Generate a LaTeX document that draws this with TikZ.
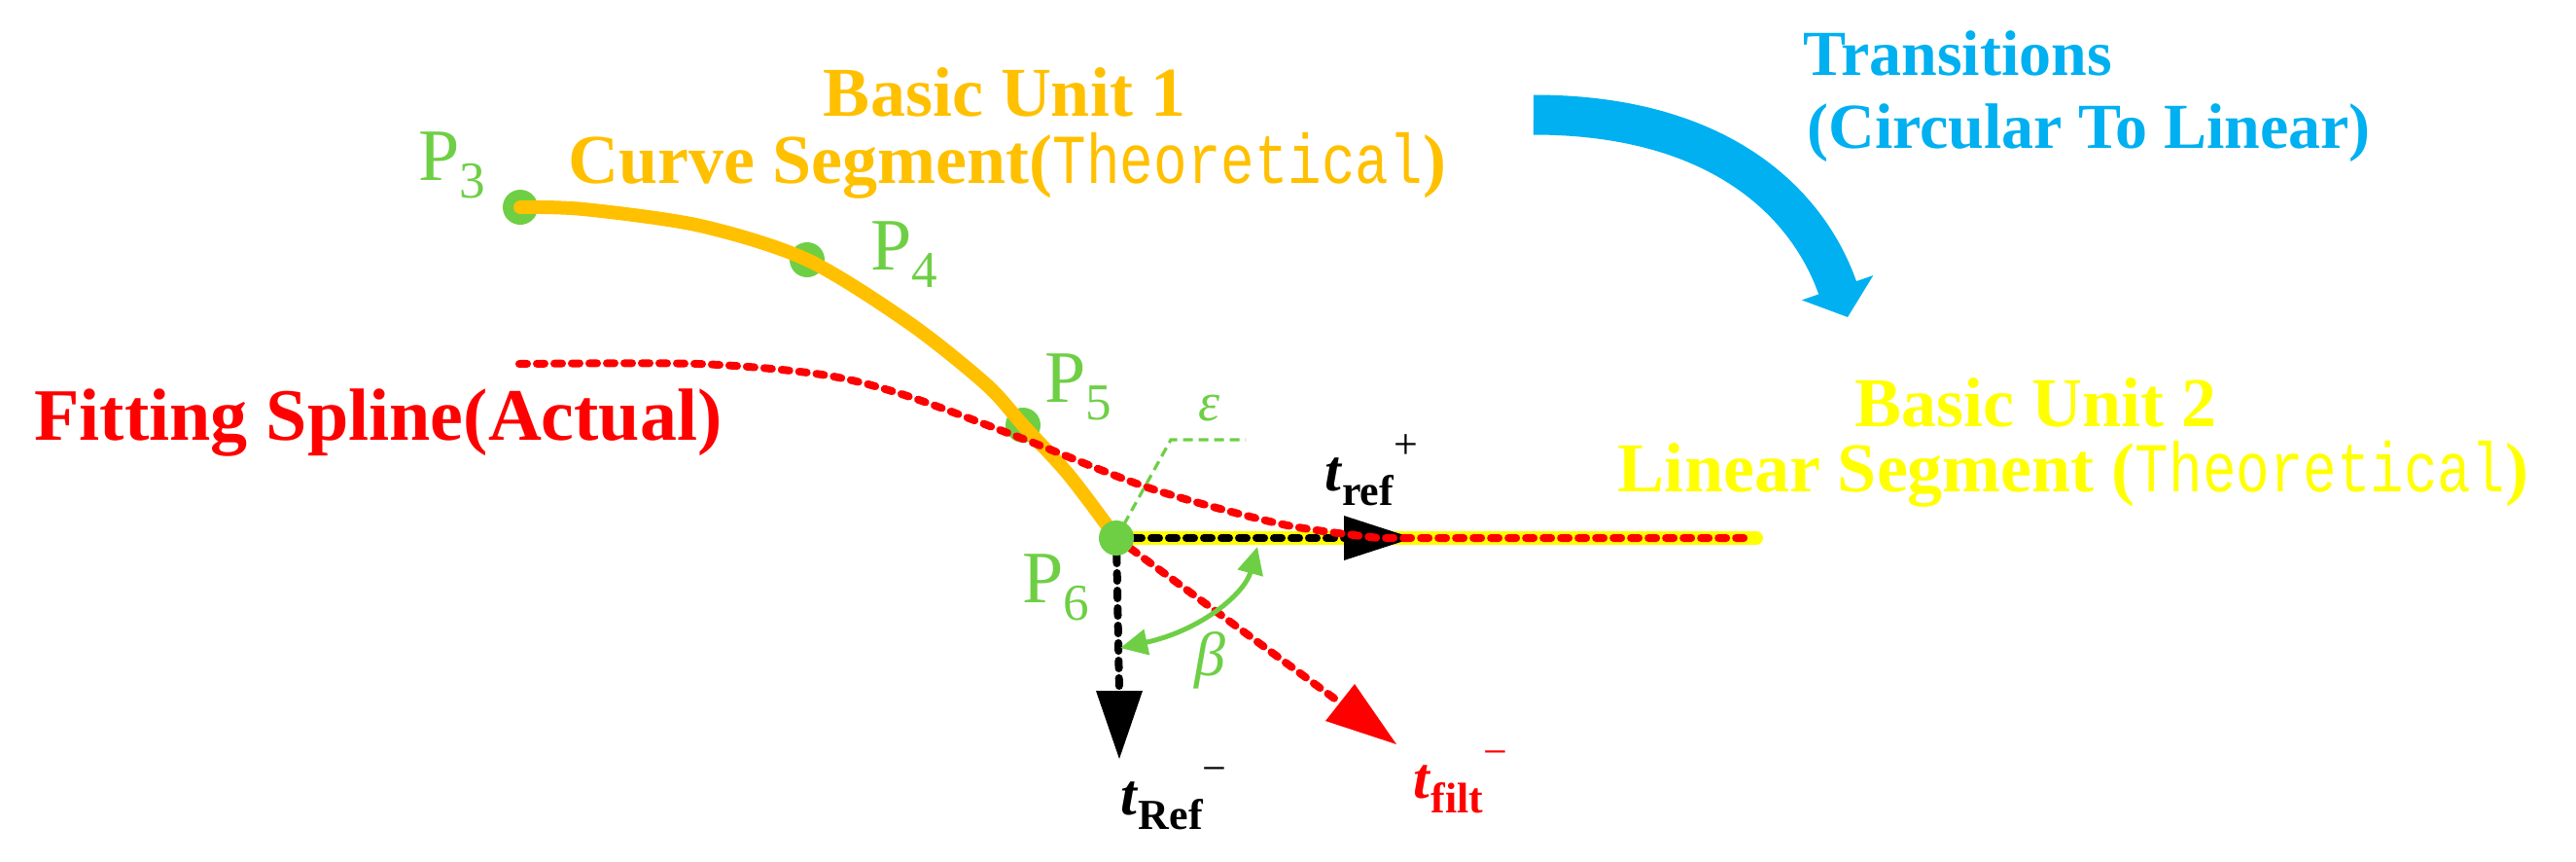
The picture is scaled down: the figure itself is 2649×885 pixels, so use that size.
\documentclass[tikz,border=0pt]{standalone}
\usepackage{fontspec}
\setmainfont{Liberation Serif}
\newfontfamily\monof{Liberation Mono}
\usetikzlibrary{arrows.meta}
\definecolor{org}{HTML}{FFC000}
\definecolor{grn}{HTML}{6ECF45}
\definecolor{blu}{HTML}{00B0F0}
\definecolor{yel}{HTML}{FFFF00}
\definecolor{rd}{HTML}{FF0000}
\newcommand{\theo}{\scalebox{0.8}[1]{\monof\mdseries Theoretical}}
\begin{document}
\begin{tikzpicture}[x=0.5pt,y=-0.5pt,
  dot/.style={circle,fill=grn,inner sep=0pt,minimum size=18pt},
  lbl/.style={inner sep=0pt,font=\bfseries},
  plbl/.style={inner sep=0pt,grn,font=\fontsize{38}{40}\selectfont},
  reddot/.style={rd,line width=4pt,dash pattern=on 4pt off 5pt,line cap=round},
  blkdot/.style={black,line width=4pt,dash pattern=on 4pt off 5pt,line cap=round}]
\useasboundingbox (0,0) rectangle (2649,885);
% points
\node[dot] (p3) at (535,213) {};
\node[dot] (p4) at (830,267) {};
\node[dot] (p5) at (1052,437) {};
\coordinate (p6c) at (1148,553);
\coordinate (yend) at (1806,553);
\coordinate (tr) at (1453,553);
\coordinate (tdn) at (1151,780);
\coordinate (tf) at (1436,765);
% orange curve
\draw[org,line width=7pt,line cap=round] plot[smooth,tension=0.5] coordinates {(535,213) (600,215) (720,232) (830,267) (935,332) (1014,395) (1052,437) (1099,488) (1148,553)};
% yellow line
\draw[yel,line width=7pt,line cap=round] (p6c) -- (yend);
% black dotted t_ref+
\draw[blkdot] (p6c) -- (1385,553);
\fill[black] (tr) -- (1382,530) -- (1382,576) -- cycle;
% red fitting spline
\draw[reddot] plot[smooth,tension=0.5] coordinates {(534,374) (718,374) (845,385) (930,406) (1052,451) (1183,502) (1319,539) (1419,553)} -- (1795,553);
% epsilon leader
\draw[grn,line width=1.6pt,dash pattern=on 5pt off 3pt] (p6c) -- (1204,452) -- (1281,452);
% down black
\draw[blkdot] (p6c) -- (1151,712);
\fill[black] (tdn) -- (1127,710) -- (1175,710) -- cycle;
% red filt
\draw[reddot] (p6c) -- (1375,720);
\fill[rd] (tf) -- (1393,703) -- (1363,741) -- cycle;
% beta arc
\draw[grn,line width=2.5pt,{Triangle[length=14pt,width=13pt]}-{Triangle[length=14pt,width=13pt]}] (1152,666) .. controls (1235,648) and (1280,610) .. (1293,562);
\node[dot] (p6) at (p6c) {};
% blue arrow
\draw[blu,line width=20.5pt,-{Triangle[length=16pt,width=38pt]}] (1577,118) .. controls (1770,118) and (1860,210) .. (1900,326);
% labels
\node[plbl] (l3) at (465,170) {P\textsubscript{3}};
\node[plbl] (l4) at (930,262) {P\textsubscript{4}};
\node[plbl] (l5) at (1109,398) {P\textsubscript{5}};
\node[plbl] (l6) at (1086,604) {P\textsubscript{6}};
\node[inner sep=0pt,grn,font=\fontsize{28}{30}\selectfont\itshape] (eps) at (1244,420) {ε};
\node[inner sep=0pt,grn,font=\fontsize{32}{34}\selectfont\itshape] (bet) at (1244,679) {β};
\node[lbl,org,font=\fontsize{36}{40}\selectfont\bfseries] (bu1) at (1033,95) {Basic Unit 1};
\node[lbl,org,font=\fontsize{36}{40}\selectfont\bfseries] (cs) at (1036,170) {Curve Segment(\theo)};
\node[lbl,rd,font=\fontsize{38}{40}\selectfont\bfseries] (fs) at (389,435) {Fitting Spline(Actual)};
\node[lbl,blu,font=\fontsize{33}{36}\selectfont\bfseries] (tt) at (2013,55) {Transitions};
\node[lbl,blu,font=\fontsize{33}{36}\selectfont\bfseries] (ct) at (2148,137) {(Circular To Linear)};
\node[lbl,yel,font=\fontsize{36}{40}\selectfont\bfseries] (bu2) at (2093,414) {Basic Unit 2};
\node[lbl,yel,font=\fontsize{36}{40}\selectfont\bfseries] (ls) at (2132,487) {Linear Segment (\theo)};
\node[lbl,font=\fontsize{30}{32}\selectfont\bfseries] (ltr) at (1410,483) {\textit{t}\raisebox{-0.25em}{\fontsize{22}{24}\selectfont ref}\raisebox{0.55em}{\mdseries\fontsize{22}{24}\selectfont +}};
\node[lbl,font=\fontsize{30}{32}\selectfont\bfseries] (ltd) at (1207,821) {\textit{t}\raisebox{-0.25em}{\fontsize{22}{24}\selectfont Ref}\raisebox{0.55em}{\mdseries\fontsize{22}{24}\selectfont −}};
\node[lbl,rd,font=\fontsize{30}{32}\selectfont\bfseries] (ltf) at (1502,804) {\textit{t}\raisebox{-0.25em}{\fontsize{22}{24}\selectfont filt}\raisebox{0.55em}{\mdseries\fontsize{22}{24}\selectfont −}};
\end{tikzpicture}
\end{document}
